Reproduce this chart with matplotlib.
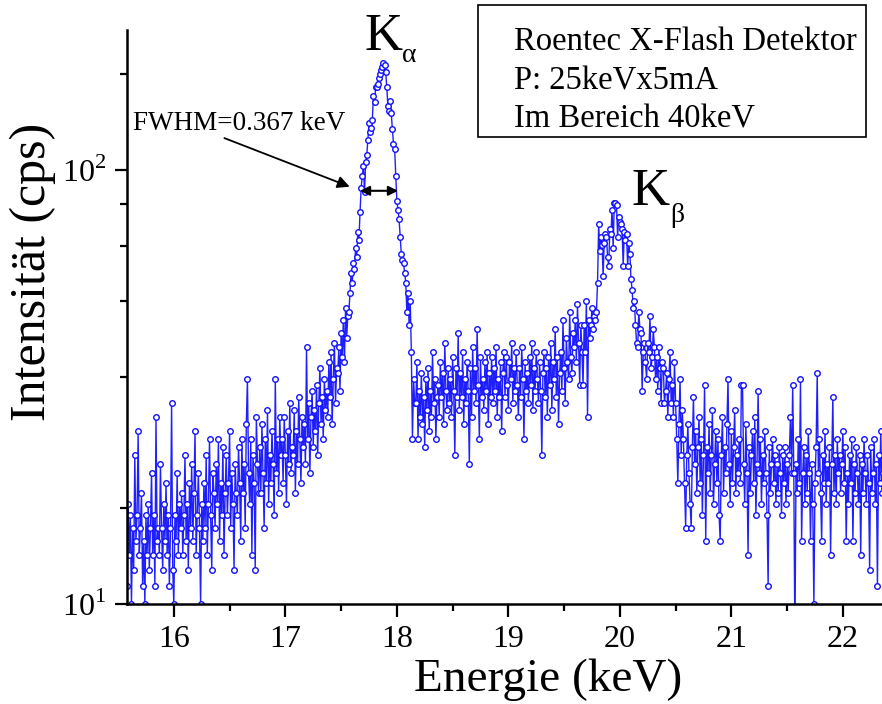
import numpy as np
import matplotlib
matplotlib.use("Agg")
import matplotlib.pyplot as plt
from matplotlib.patches import Rectangle
from matplotlib.ticker import FixedLocator, NullFormatter

plt.rcParams["font.family"] = ["Liberation Serif", "DejaVu Serif"]
plt.rcParams["mathtext.fontset"] = "custom"
plt.rcParams["mathtext.rm"] = "Liberation Serif"

# spectrum, 10 eV channels starting at 15.57 keV (cps)
e_start = 15.57
e_step = 0.01

bg_left = [
    14, 11, 17, 13, 16, 10, 15, 12, 22, 14,
    16, 25, 13, 15, 18, 11, 14, 10, 16, 13,
    17, 12, 15, 20, 13, 16, 11, 27, 14, 15,
    13, 21, 15, 12, 17, 14, 19, 13, 16, 11,
    15, 29, 12, 10, 16, 14, 20, 13, 17, 15,
    18, 13, 16, 22, 14, 17, 12, 19, 15, 21,
    14, 18, 25, 13, 16, 20, 15, 10, 17, 14,
    19, 15, 22, 13, 17, 24, 16, 12, 20, 18,
    15, 21, 17, 24, 14, 19, 16, 23, 13, 18,
    22, 16, 19, 25, 15, 20, 17, 12, 21, 18,
    16, 23, 19, 14, 24, 18, 21, 15, 26, 33,
    20, 17, 24, 13, 22, 19, 12, 27, 21, 18,
    23, 18, 26, 20, 15, 24, 19, 28, 17, 22,
    19, 25, 21, 16, 33, 20, 24, 18, 27, 22,
    24, 19, 27, 22, 17, 25, 21, 29, 20, 23,
    22, 28, 18, 25, 21, 30, 24, 19, 27, 23,
    26, 21, 39, 24, 29, 20, 27, 31, 23, 28,
    25, 32, 22, 29, 35, 26, 30, 24, 33, 28,
    31, 27, 36, 30, 38, 26, 33, 40, 29, 35,
    34, 39, 31, 42, 37, 45, 36, 48, 41, 46,
]
ka_peak = [
    47, 52, 58, 55, 61, 59, 66, 63, 72, 69,
    80, 91, 97, 102, 89, 104, 108, 117, 128, 122,
    125, 130, 148, 143, 155, 155, 158, 163, 166, 170,
    173, 176, 174, 168, 155, 140, 137, 144, 135, 124,
    115, 112, 97, 85, 81, 77, 70, 64, 62, 61,
    58, 55, 47, 52, 44, 50, 38, 24, 33, 29,
]
middle = [
    29, 36, 24, 31, 27, 34, 26, 30, 23, 33,
    28, 35, 25, 31, 27, 38, 29, 33, 24, 30,
    32, 27, 36, 30, 34, 26, 40, 31, 28, 35,
    29, 33, 27, 37, 31, 22, 35, 30, 42, 28,
    34, 30, 38, 26, 33, 29, 36, 31, 21, 35,
    27, 39, 31, 35, 29, 43, 32, 24, 37, 30,
    33, 28, 36, 31, 38, 26, 34, 30, 37, 29,
    35, 31, 39, 27, 33, 30, 36, 25, 34, 38,
    30, 37, 32, 28, 36, 33, 40, 29, 35, 31,
    38, 32, 27, 35, 30, 39, 33, 24, 36, 31,
    34, 29, 37, 32, 40, 28, 35, 31, 38, 33,
    29, 36, 31, 22, 34, 38, 30, 35, 27, 37,
    32, 40, 28, 36, 33, 43, 30, 37, 26, 34,
    38, 31, 45, 35, 29, 41, 36, 33, 47, 37,
    34, 42, 39, 45, 36, 49, 40, 32, 44, 38,
]
kb_peak = [
    32, 44, 38, 50, 27, 45, 41, 44, 48, 43,
    46, 45, 47, 55, 75, 65, 70, 67, 57, 68,
    71, 70, 63, 60, 73, 71, 81, 66, 84, 84,
    83, 70, 78, 76, 75, 73, 60, 72, 69, 71,
    60, 68, 64, 56, 53, 48, 50, 44, 40, 39,
    47, 43, 42, 31, 38, 40, 36, 33, 40, 38,
    46, 35, 37, 43, 39, 33, 37, 31, 39, 35,
    29, 36, 35, 29, 31, 34, 27, 33, 38, 29,
    32, 27, 36, 29, 24, 19, 26, 33, 22, 28,
]
bg_right = [
    24, 19, 15, 22, 26, 20, 17, 15, 23, 30,
    21, 25, 18, 23, 27, 19, 24, 16, 22, 32,
    14, 23, 20, 26, 18, 22, 28, 17, 21, 25,
    19, 24, 16, 14, 22, 27, 18, 23, 20, 26,
    33, 21, 17, 25, 19, 23, 28, 18, 22, 20,
    24, 19, 32, 32, 21, 17, 26, 20, 13, 23,
    18, 22, 25, 19, 27, 16, 21, 31, 20, 24,
    17, 22, 19, 25, 20, 16, 11, 23, 18, 21,
    24, 19, 22, 17, 21, 18, 23, 20, 16, 22,
    19, 23, 17, 21, 18, 22, 27, 20, 32, 20,
    8, 21, 18, 24, 19, 33, 14, 20, 23, 17,
    22, 18, 25, 20, 14, 21, 17, 10, 19, 23,
    34, 20, 24, 18, 14, 22, 19, 25, 17, 21,
    19, 23, 13, 21, 30, 18, 22, 17, 24, 20,
    22, 18, 21, 25, 19, 23, 14, 20, 17, 22,
    19, 24, 14, 21, 18, 23, 20, 17, 22, 13,
    21, 18, 24, 20, 17, 22, 19, 12, 23, 18,
    20, 24, 17, 21, 11, 22, 19, 25, 18, 20,
]

counts = np.array(bg_left + ka_peak + middle + kb_peak + bg_right, dtype=float)
energy = e_start + e_step * np.arange(len(counts))

info_lines = ["Roentec X-Flash Detektor", "P: 25keVx5mA", "Im Bereich 40keV"]

W, H = 882, 704
fig = plt.figure(figsize=(W / 100, H / 100), dpi=100)
ax = fig.add_axes([127 / W, 100 / H, (W - 127) / W, 574 / H])

ax.plot(energy, counts, "-", color="#1f1fff", lw=1.0, marker="o", ms=4.0,
        mfc="white", mec="#1010ff", mew=1.0)

ax.set_yscale("log")
ax.set_xlim(15.58, 22.351)
ax.set_ylim(10, 210)

ax.set_xticks(range(16, 23))
ax.xaxis.set_minor_locator(FixedLocator(np.arange(15.5, 22.6, 0.5)))
ax.yaxis.set_major_locator(FixedLocator([10, 100]))
ax.set_yticklabels([r"$10^1$", r"$10^2$"])
ax.yaxis.set_minor_locator(FixedLocator([100 / 6 * k for k in range(1, 6)] + [1000 / 6]))
ax.yaxis.set_minor_formatter(NullFormatter())

ax.spines["top"].set_visible(False)
ax.spines["right"].set_visible(False)
ax.spines["left"].set_linewidth(1.8)
ax.spines["bottom"].set_linewidth(1.8)
ax.tick_params(which="major", direction="out", length=9, width=1.6, labelsize=23, pad=6)
ax.tick_params(which="minor", direction="out", length=5, width=1.6)

ax.set_xlabel("Energie (keV)", fontsize=34)
ax.xaxis.set_label_coords(0.558, -0.095)
ax.set_ylabel("Intensität (cps)", fontsize=36)
ax.yaxis.set_label_coords(-0.094, 0.578)

# FWHM marker
ax.annotate("", xy=(17.6, 91), xytext=(16.43, 119),
            arrowprops=dict(arrowstyle="-|>", color="black", lw=1.3, mutation_scale=18))
ax.annotate("", xy=(18.01, 89.5), xytext=(17.67, 89.5),
            arrowprops=dict(arrowstyle="<|-|>", color="black", lw=1.5, mutation_scale=14,
                            shrinkA=0, shrinkB=0))
fig.text(133 / W, 1 - 130 / H, "FWHM=0.367 keV", fontsize=19.5, va="baseline")

# peak labels
fig.text(384 / W, 1 - 50 / H, "K", fontsize=38, ha="center", va="baseline")
fig.text(409 / W, 1 - 62 / H, "α", fontsize=20, ha="center", va="baseline")
fig.text(651 / W, 1 - 205 / H, "K", fontsize=38, ha="center", va="baseline")
fig.text(677 / W, 1 - 222 / H, "β", fontsize=20, ha="center", va="baseline")

# info box
fig.patches.append(Rectangle((478 / W, 1 - 137 / H), (866 - 478) / W, 132 / H,
                             transform=fig.transFigure, fill=False, ec="black", lw=1.2))
for i, line in enumerate(info_lines):
    fig.text(514 / W, 1 - (50 + 39 * i) / H, line, fontsize=23.5, va="baseline")

fig.savefig("out.png", dpi=100)
